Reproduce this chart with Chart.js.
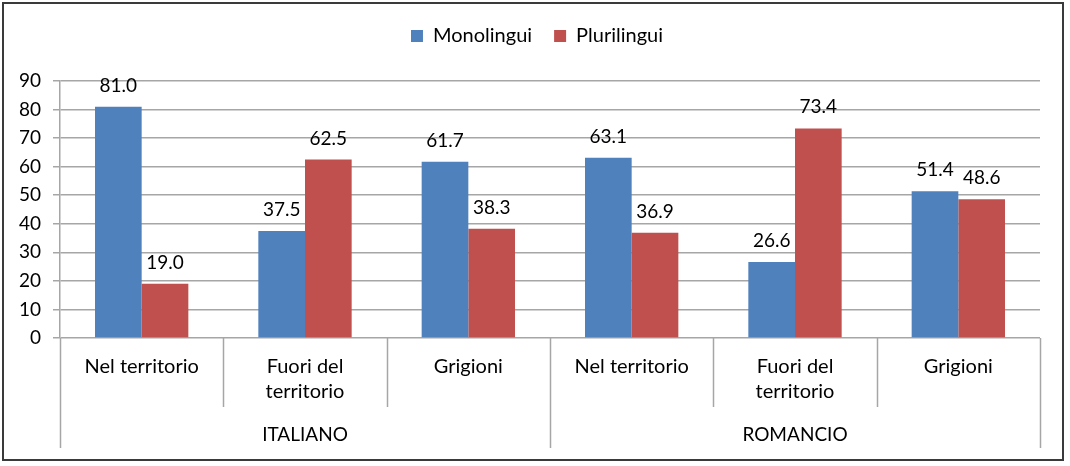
<!DOCTYPE html>
<html>
<head>
<meta charset="utf-8">
<script src="https://cdn.jsdelivr.net/npm/chart.js@4.4.1/dist/chart.umd.min.js"></script>
<style>
  html, body { margin: 0; padding: 0; background: #fff; }
  canvas { display: block; }
</style>
</head>
<body>
<canvas id="c" width="1070" height="466"></canvas>
<script>
const categories = [["Nel territorio"], ["Fuori del", "territorio"], ["Grigioni"], ["Nel territorio"], ["Fuori del", "territorio"], ["Grigioni"]];
const groups = ["ITALIANO", "ROMANCIO"];
const monolingui = [81.0, 37.5, 61.7, 63.1, 26.6, 51.4];
const plurilingui = [19.0, 62.5, 38.3, 36.9, 73.4, 48.6];
const seriesNames = ["Monolingui", "Plurilingui"];

const FONT = "Lato, 'Open Sans', sans-serif";
const FS = 19;
const GRID = '#a6a6a6';

const frame = {
  id: 'frame',
  beforeDraw(chart) {
    const c = chart.ctx;
    c.save();
    c.fillStyle = '#fff';
    c.fillRect(0, 0, chart.width, chart.height);
    c.restore();
  },
  afterDraw(chart) {
    const c = chart.ctx;
    const x = chart.scales.x, x2 = chart.scales.x2, ca = chart.chartArea;
    const n = categories.length;
    const step = x.getPixelForValue(1) - x.getPixelForValue(0);
    c.save();
    c.strokeStyle = GRID;
    c.lineWidth = 1.5;
    for (let i = 0; i <= n; i++) {
      const px = Math.round(x.getPixelForValue(0) - step / 2 + i * step) + 0.5;
      const bottom = (i % 3 === 0) ? x2.bottom : x.bottom;
      c.beginPath();
      c.moveTo(px, ca.bottom);
      c.lineTo(px, bottom);
      c.stroke();
    }
    c.strokeStyle = '#3a3a3a';
    c.lineWidth = 2;
    c.strokeRect(3, 3, 1060, 457);
    c.restore();
  }
};

const dataLabels = {
  id: 'dataLabels',
  afterDatasetsDraw(chart) {
    const c = chart.ctx;
    c.save();
    c.font = FS + 'px ' + FONT;
    c.fillStyle = '#000';
    c.textAlign = 'center';
    c.textBaseline = 'alphabetic';
    chart.data.datasets.forEach((ds, di) => {
      const meta = chart.getDatasetMeta(di);
      meta.data.forEach((el, i) => {
        c.fillText(ds.data[i].toFixed(1), el.x, el.y - 15);
      });
    });
    c.restore();
  }
};

const legendSpace = {
  id: 'legendSpace',
  beforeInit(chart) {
    if (chart.legend && !chart.legend._patched) {
      const orig = chart.legend.fit;
      chart.legend.fit = function () { orig.call(this); this.height += 25; };
      chart.legend._patched = true;
    }
  },
  afterLayout(chart) {
    if (chart.legend) {
      chart.legend.left += 17;
      chart.legend.right += 17;
    }
  }
};

new Chart(document.getElementById('c'), {
  type: 'bar',
  data: {
    labels: categories,
    datasets: [
      { label: seriesNames[0], data: monolingui, backgroundColor: '#4f81bd', borderWidth: 0 },
      { label: seriesNames[1], data: plurilingui, backgroundColor: '#c0504d', borderWidth: 0 }
    ]
  },
  options: {
    responsive: false,
    animation: false,
    devicePixelRatio: 1,
    categoryPercentage: 2 / 3.5,
    barPercentage: 1,
    layout: { padding: { left: 0, right: 30, top: 4, bottom: 18 } },
    plugins: {
      legend: {
        position: 'top',
        labels: {
          boxWidth: 12, boxHeight: 12, padding: 22,
          color: '#000',
          font: { family: FONT, size: 20 }
        }
      },
      tooltip: { enabled: false },
      title: { display: false }
    },
    scales: {
      y: {
        min: 0, max: 90,
        ticks: { stepSize: 10, color: '#000', padding: 12, font: { family: FONT, size: FS } },
        grid: { color: GRID, lineWidth: 1.5, tickLength: 7 },
        border: { color: GRID, width: 1.5 },
        afterFit(s) { s.width = 60; }
      },
      x: {
        offset: true,
        ticks: { color: '#000', padding: 16, maxRotation: 0, autoSkip: false, font: { family: FONT, size: 20, lineHeight: 1.25 } },
        grid: { display: false, drawTicks: false },
        border: { display: false },
        afterFit(s) { s.height = 69; }
      },
      x2: {
        type: 'category',
        labels: groups,
        position: 'bottom',
        offset: true,
        ticks: { color: '#000', padding: 15, maxRotation: 0, font: { family: FONT, size: FS, lineHeight: 1.32 } },
        grid: { display: false, drawTicks: false },
        border: { display: false },
        afterFit(s) { s.height = 41; }
      }
    }
  },
  plugins: [legendSpace, dataLabels, frame]
});
</script>
</body>
</html>
